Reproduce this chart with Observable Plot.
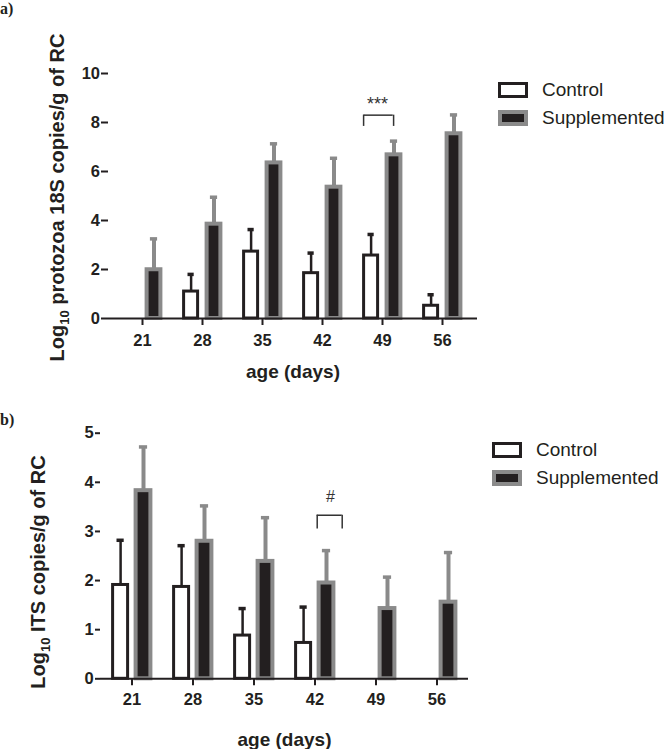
<!DOCTYPE html>
<html><head><meta charset="utf-8">
<script src="https://cdn.jsdelivr.net/npm/d3@7"></script>
<script src="https://cdn.jsdelivr.net/npm/@observablehq/plot@0.6"></script>
<style>
body{margin:0;background:#fff;}
#fig{position:relative;width:666px;height:749px;font-family:"Liberation Sans",Arial,sans-serif;color:#231f20;}
#fig svg{display:block;overflow:visible;}
.plabel{position:absolute;font-family:"Liberation Serif","Times New Roman",serif;font-weight:bold;font-size:16px;line-height:normal;}
.legend{position:absolute;font-size:19px;}
.legend .item{display:flex;align-items:center;height:28px;}
.legend .box{box-sizing:border-box;width:30px;height:16px;margin-right:14px;}
</style></head><body><div id="fig"></div>
<script>
// ---- data ----
const ages = ["21","28","35","42","49","56"];
const groups = ["Control","Supplemented"];
// panel a: Log10 protozoa 18S copies/g of RC
const protozoaControl   = [null, 1.10, 2.73, 1.85, 2.57, 0.52];
const protozoaControlSE = [null, 0.70, 0.90, 0.82, 0.86, 0.45];
const protozoaSupp      = [1.99, 3.85, 6.35, 5.36, 6.68, 7.54];
const protozoaSuppSE    = [1.26, 1.10, 0.78, 1.18, 0.56, 0.77];
const protozoaTicks = [0, 2, 4, 6, 8, 10];
// panel b: Log10 ITS copies/g of RC
const itsControl   = [1.91, 1.87, 0.88, 0.73, null, null];
const itsControlSE = [0.91, 0.84, 0.55, 0.73, null, null];
const itsSupp      = [3.83, 2.80, 2.39, 1.95, 1.43, 1.56];
const itsSuppSE    = [0.89, 0.72, 0.89, 0.66, 0.64, 1.01];
const itsTicks = [0, 1, 2, 3, 4, 5];
// significance annotations (data units)
const sigA = {age: "49", label: "***", top: 8.3, leg: 7.84, textY: 8.5};
const sigB = {age: "42", label: "#", top: 3.33, leg: 3.05, textY: 3.6};

// ---- styles ----
const INK = "#231f20", GRAY = "#8a8a8a";
const ST = {
  Control:      {fill: "#fff", stroke: INK, sw: 3, inL: 11.6, inR: 34.4, dx: -11.4, capL: 15.5, capR: 38.3, errW: 2.5},
  Supplemented: {fill: INK, stroke: GRAY, sw: 4, inL: 34.6, inR: 11.6, dx: 11.5, capL: 37.9, capR: 14.9, errW: 4}
};

function rows(ctrl, ctrlE, supp, suppE) {
  const out = [];
  ages.forEach((a, i) => {
    if (ctrl[i] != null) out.push({age: a, group: "Control", value: ctrl[i], top: ctrl[i] + ctrlE[i]});
    if (supp[i] != null) out.push({age: a, group: "Supplemented", value: supp[i], top: supp[i] + suppE[i]});
  });
  return out;
}

function subscriptLog(svg) {
  const ns = "http://www.w3.org/2000/svg";
  svg.querySelectorAll("text").forEach(t => {
    if (t.childElementCount === 0 && t.textContent.startsWith("Log10")) {
      const rest = t.textContent.slice(5);
      t.textContent = "";
      const a = document.createElementNS(ns, "tspan"); a.textContent = "Log";
      const b = document.createElementNS(ns, "tspan"); b.textContent = "10";
      b.setAttribute("font-size", "13"); b.setAttribute("dy", "5");
      const c = document.createElementNS(ns, "tspan"); c.textContent = rest; c.setAttribute("dy", "-5");
      t.append(a, b, c);
    }
  });
}

function panel(o) {
  const data = o.data;
  const marks = [];
  for (const g of groups) {
    const s = ST[g];
    const d = data.filter(r => r.group === g);
    marks.push(Plot.ruleX(d, {x: "age", y1: "value", y2: "top", dx: s.dx, stroke: s.stroke, strokeWidth: s.errW}));
    marks.push(Plot.barY(d, {x: "age", y: "value", fill: s.fill, stroke: s.stroke, strokeWidth: s.sw, insetLeft: s.inL, insetRight: s.inR}));
    marks.push(Plot.tickY(d, {x: "age", y: "top", stroke: s.stroke, strokeWidth: 3.5, insetLeft: s.capL, insetRight: s.capR}));
  }
  const sig = o.sig;
  marks.push(
    Plot.tickY([sig], {x: "age", y: "top", stroke: "#333", strokeWidth: 1.5, insetLeft: o.brL, insetRight: o.brR}),
    Plot.ruleX([sig], {x: "age", y1: "leg", y2: "top", dx: o.legL, stroke: "#333", strokeWidth: 1.5}),
    Plot.ruleX([sig], {x: "age", y1: "leg", y2: "top", dx: o.legR, stroke: "#333", strokeWidth: 1.5}),
    Plot.text([sig], {x: "age", y: "textY", text: "label", dx: o.sigDx, lineAnchor: "bottom", fontSize: o.sigSize, fontWeight: "normal", fill: "#333"}),
    Plot.ruleY([0], {stroke: INK, strokeWidth: 2}),
    Plot.axisY({ticks: o.ticks, tickSize: o.yTickSize, tickPadding: o.yTickPad, strokeWidth: 2, line: true, label: null, tickFormat: d => String(d)}),
    Plot.axisX({tickSize: 7, tickPadding: o.xTickPad, strokeWidth: 2, label: null}),
    Plot.text([o.yTitle], {text: d => d, frameAnchor: "left", textAnchor: "middle", rotate: -90, dx: o.yTitleDx, dy: o.yTitleDy, fontSize: 20, fontWeight: "bold", lineAnchor: "middle"}),
    Plot.text(["age (days)"], {text: d => d, frameAnchor: "bottom", textAnchor: "middle", lineAnchor: "bottom", dy: o.xTitleDy, fontSize: 19, fontWeight: "bold"})
  );
  const svg = Plot.plot({
    width: 666, height: o.height,
    marginTop: o.marginTop, marginBottom: o.marginBottom, marginLeft: o.marginLeft, marginRight: o.marginRight,
    style: {fontFamily: '"Liberation Sans", Arial, sans-serif', fontSize: "16.5px", fontWeight: "bold", color: INK, background: "transparent"},
    x: {type: "band", domain: ages, padding: 0, insetLeft: o.xInL, insetRight: o.xInR},
    y: {domain: o.yDomain},
    marks
  });
  subscriptLog(svg);
  return svg;
}

const fig = document.getElementById("fig");
fig.append(panel({
  data: rows(protozoaControl, protozoaControlSE, protozoaSupp, protozoaSuppSE),
  ticks: protozoaTicks, yDomain: [0, 10], sig: sigA,
  height: 380, marginTop: 73, marginBottom: 62, marginLeft: 108, marginRight: 189, xInL: 1.5, xInR: 2.5,
  yTickSize: 7, yTickPad: 1.5, xTickPad: 9,
  yTitle: "Log10 protozoa 18S copies/g of RC", yTitleDx: -51, yTitleDy: 1.5, xTitleDy: 59,
  brL: 11.5, brR: 19.3, legL: -18.9, legR: 11.1, sigDx: -5, sigSize: 18
}));
fig.append(panel({
  data: rows(itsControl, itsControlSE, itsSupp, itsSuppSE),
  ticks: itsTicks, yDomain: [0, 5], sig: sigB,
  height: 369, marginTop: 52.7, marginBottom: 70.7, marginLeft: 100, marginRight: 198, xInL: 1, xInR: 1,
  yTickSize: 5, yTickPad: 1.7, xTickPad: 7,
  yTitle: "Log10 ITS copies/g of RC", yTitleDx: -61.5, yTitleDy: 16, xTitleDy: 66.7,
  brL: 32.7, brR: 3.3, legL: 2.2, legR: 27.2, sigDx: 15.5, sigSize: 16
}));

// panel letters
for (const [txt, top] of [["a)", 0], ["b)", 411]]) {
  const d = document.createElement("div");
  d.className = "plabel"; d.style.left = "0px"; d.style.top = top + "px"; d.textContent = txt;
  fig.append(d);
}
// legends
for (const [left, top] of [[498, 76], [492, 436]]) {
  const lg = document.createElement("div");
  lg.className = "legend"; lg.style.left = left + "px"; lg.style.top = top + "px";
  for (const g of groups) {
    const it = document.createElement("div"); it.className = "item";
    const b = document.createElement("span"); b.className = "box";
    b.style.background = ST[g].fill; b.style.border = `${g === "Control" ? 3.5 : 4}px solid ${ST[g].stroke}`;
    const t = document.createElement("span"); t.textContent = g;
    it.append(b, t); lg.append(it);
  }
  fig.append(lg);
}
</script></body></html>
